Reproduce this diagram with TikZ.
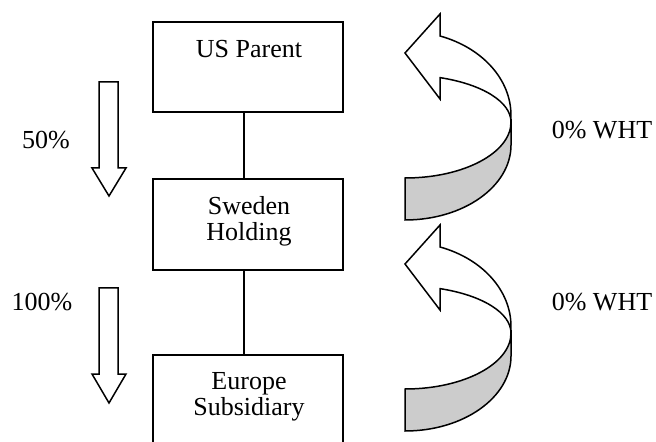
\documentclass[tikz,border=0pt]{standalone}
\usepackage{fontspec}
\setmainfont{Liberation Serif}
\usetikzlibrary{calc}

\tikzset{
  entity/.style={draw, line width=0.8pt, minimum width=95pt, inner sep=0pt},
  boxtext/.style={anchor=base, align=center, inner sep=0pt, font=\fontsize{13}{13}\selectfont},
  plain/.style={inner sep=0pt, font=\fontsize{13}{15}\selectfont},
  link/.style={line width=0.8pt},
  blockarrow/.style={draw, line width=0.75pt, line join=miter, fill=white},
  twist/.style={draw, line width=0.75pt, fill=black!20},
}

% Down-pointing block arrow: top edge, shaft bottom, tip
\newcommand{\downblock}[3]{%
  \draw[blockarrow] (99,#1) -- (118,#1) -- (118,#2) -- (126,#2) -- (109,#3)
    -- (92,#2) -- (99,#2) -- cycle;}

% Curved return arrow with a twisted tail, shifted down by #1
\newcommand{\curvedback}[1]{%
  \begin{scope}[yshift=#1*-0.5pt]
    \draw[twist] (511,122) -- (511,145)
      arc[start angle=0, end angle=90, x radius=106, y radius=75]
      -- (405,178)
      arc[start angle=90, end angle=0, x radius=106, y radius=56] -- cycle;
    \draw[blockarrow] (440,78) -- (440,99) -- (405,53) -- (440,14) -- (440,36)
      arc[start angle=-70.7, end angle=0, x radius=106, y radius=84]
      -- (511,122)
      arc[start angle=0, end angle=-70.7, x radius=106, y radius=47] -- cycle;
  \end{scope}}

\begin{document}
\begin{tikzpicture}[x=0.5pt, y=-0.5pt]
  \useasboundingbox (0,0) rectangle (656,442);

  % ownership chain
  \node[entity, minimum height=45pt] (us) at (248,67) {};
  \node[entity, minimum height=45.5pt] (se) at (248,224.5) {};
  \node[entity, minimum height=45pt] (eu) at (248,400) {};

  % text sits near the top of each box (base = last line)
  \node[boxtext] (usT) at (249,58) {US Parent};
  \node[boxtext] (seT) at (249,241) {Sweden\\Holding};
  \node[boxtext] (euT) at (249,415) {Europe\\Subsidiary};

  \draw[link] ([xshift=-2pt]us.south) -- ([xshift=-2pt]se.north);
  \draw[link] ([xshift=-2pt]se.south) -- ([xshift=-2pt]eu.north);

  % ownership percentages
  \downblock{82}{168}{196}
  \downblock{288}{374}{403}
  \node[plain] (p50) at (46,140) {50\%};
  \node[plain] (p100) at (42,302) {100\%};

  % dividend flows back up
  \curvedback{0}
  \curvedback{211}
  \node[plain] (w1) at (602,130) {0\% WHT};
  \node[plain] (w2) at (602,302) {0\% WHT};
\end{tikzpicture}
\end{document}
